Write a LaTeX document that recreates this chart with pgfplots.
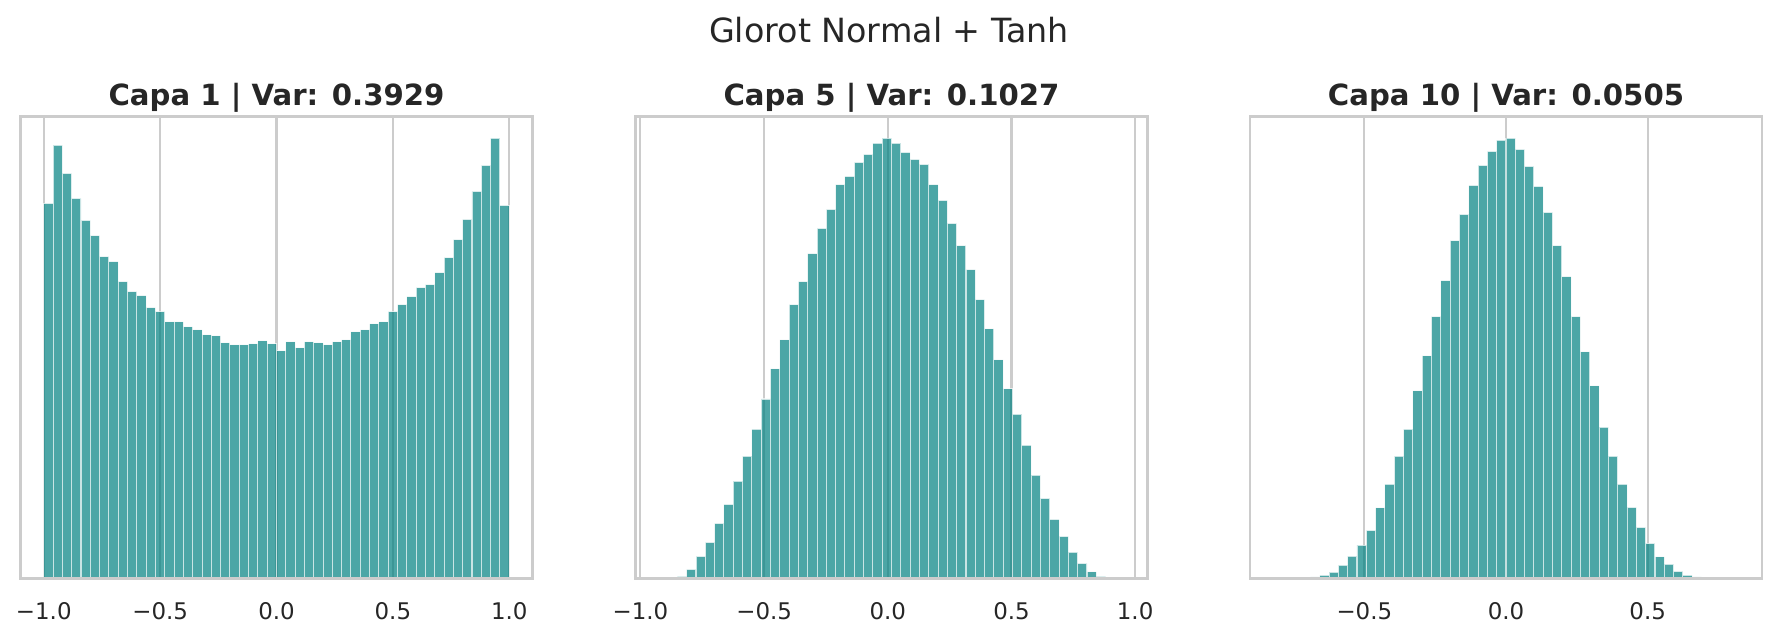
\documentclass[border=0pt]{standalone}
\usepackage{fontspec}
\setmainfont{DejaVu Sans}
\usepackage{pgfplots}
\usepackage{pgfplotstable}
\pgfplotsset{compat=1.18}
\definecolor{barteal}{RGB}{0,128,128}
\definecolor{gridc}{RGB}{204,204,204}
\definecolor{txt}{RGB}{38,38,38}

% Layer 1 histogram (bin left edge, count); last row closes the last bin
\pgfplotstableread{
x y
-1.00 1122
-0.96 1296
-0.92 1212
-0.88 1137
-0.84 1071
-0.80 1026
-0.76 963
-0.72 948
-0.68 888
-0.64 858
-0.60 846
-0.56 810
-0.52 798
-0.48 768
-0.44 768
-0.40 753
-0.36 744
-0.32 729
-0.28 726
-0.24 705
-0.20 699
-0.16 699
-0.12 702
-0.08 711
-0.04 702
0.00 681
0.04 708
0.08 690
0.12 708
0.16 705
0.20 699
0.24 708
0.28 714
0.32 738
0.36 744
0.40 762
0.44 768
0.48 798
0.52 819
0.56 843
0.60 870
0.64 879
0.68 915
0.72 960
0.76 1014
0.80 1074
0.84 1158
0.88 1236
0.92 1317
0.96 1116
1.00 0
}\layerA

% Layer 5 histogram
\pgfplotstableread{
x y
-0.9260 0.2
-0.8884 0.3
-0.8507 6
-0.8131 27
-0.7754 66
-0.7378 108
-0.7002 165
-0.6625 222
-0.6249 291
-0.5872 366
-0.5496 447
-0.5120 537
-0.4743 627
-0.4367 714
-0.3990 819
-0.3614 888
-0.3238 972
-0.2861 1047
-0.2485 1104
-0.2108 1178
-0.1732 1203
-0.1356 1245
-0.0979 1269
-0.0603 1302
-0.0226 1317
0.0150 1302
0.0526 1275
0.0903 1254
0.1279 1239
0.1656 1178
0.2032 1131
0.2408 1062
0.2785 996
0.3161 924
0.3538 834
0.3914 747
0.4290 654
0.4667 567
0.5043 492
0.5420 399
0.5796 309
0.6172 240
0.6549 177
0.6925 126
0.7302 79
0.7678 45
0.8054 20
0.8431 6
0.8807 0.5
0.9184 0.2
0.9560 0
}\layerB

% Layer 10 histogram
\pgfplotstableread{
x y
-0.8216 0.2
-0.7887 0.2
-0.7559 0.3
-0.7230 1
-0.6902 5
-0.6573 10
-0.6244 19
-0.5916 40
-0.5587 67
-0.5259 100
-0.4930 144
-0.4601 211
-0.4273 282
-0.3944 366
-0.3616 447
-0.3287 561
-0.2958 666
-0.2630 783
-0.2301 891
-0.1973 1011
-0.1644 1089
-0.1315 1176
-0.0987 1236
-0.0658 1278
-0.0330 1311
-0.0001 1317
0.0328 1284
0.0656 1233
0.0985 1173
0.1313 1095
0.1642 996
0.1971 903
0.2299 783
0.2628 678
0.2956 576
0.3285 453
0.3614 366
0.3942 282
0.4271 213
0.4599 153
0.4928 105
0.5257 65
0.5585 43
0.5914 21
0.6242 10
0.6571 5
0.6900 1
0.7228 0.3
0.7557 0.2
0.7885 0.2
0.8214 0
}\layerC

\pgfplotsset{
  histax/.style={
    scale only axis, width=245.76pt, height=221.9pt, anchor=south west,
    ymin=0, ymax=1382.85, ytick=\empty,
    xmajorgrids, ymajorgrids=false,
    major grid style={gridc, line width=1pt},
    axis line style={gridc, line width=1.25pt},
    major tick length=0pt,
    tick style={draw=none},
    xticklabel style={font=\fontsize{11}{13}\selectfont, text=txt, anchor=north, inner sep=0pt, yshift=-11.5pt},
    title style={at={(0.5,1)}, anchor=base, yshift=-0.7pt, inner sep=0pt, font=\bfseries\fontsize{14}{17}\selectfont, text=txt},
  },
  histbar/.style={ybar interval, fill=barteal, fill opacity=0.7, draw=white, draw opacity=0.7, line width=0.5pt},
}

\begin{document}
\begin{tikzpicture}
\useasboundingbox (0,0) rectangle (853.44pt,305.28pt);

\begin{axis}[histax, at={(9.84pt,27.6pt)},
  xmin=-1.1, xmax=1.1,
  xtick={-1,-0.5,0,0.5,1}, xticklabels={−1.0,−0.5,0.0,0.5,1.0},
  title={Capa 1 | Var: 0.3929}]
  \addplot[histbar] table[x=x,y=y] {\layerA};
  \draw[gridc, line width=1.25pt] (rel axis cs:0,0) rectangle (rel axis cs:1,1);
\end{axis}

\begin{axis}[histax, at={(305.04pt,27.6pt)},
  xmin=-1.020, xmax=1.050,
  xtick={-1,-0.5,0,0.5,1}, xticklabels={−1.0,−0.5,0.0,0.5,1.0},
  title={Capa 5 | Var: 0.1027}]
  \addplot[histbar] table[x=x,y=y] {\layerB};
  \draw[gridc, line width=1.25pt] (rel axis cs:0,0) rectangle (rel axis cs:1,1);
\end{axis}

\begin{axis}[histax, at={(600pt,27.6pt)},
  xmin=-0.9034, xmax=0.9034,
  xtick={-0.5,0,0.5}, xticklabels={−0.5,0.0,0.5},
  title={Capa 10 | Var: 0.0505}]
  \addplot[histbar] table[x=x,y=y] {\layerC};
  \draw[gridc, line width=1.25pt] (rel axis cs:0,0) rectangle (rel axis cs:1,1);
\end{axis}

\node[anchor=base, inner sep=0pt, font=\fontsize{16}{19}\selectfont, text=txt] at (426.72pt,285pt) {Glorot Normal + Tanh};
\end{tikzpicture}
\end{document}
